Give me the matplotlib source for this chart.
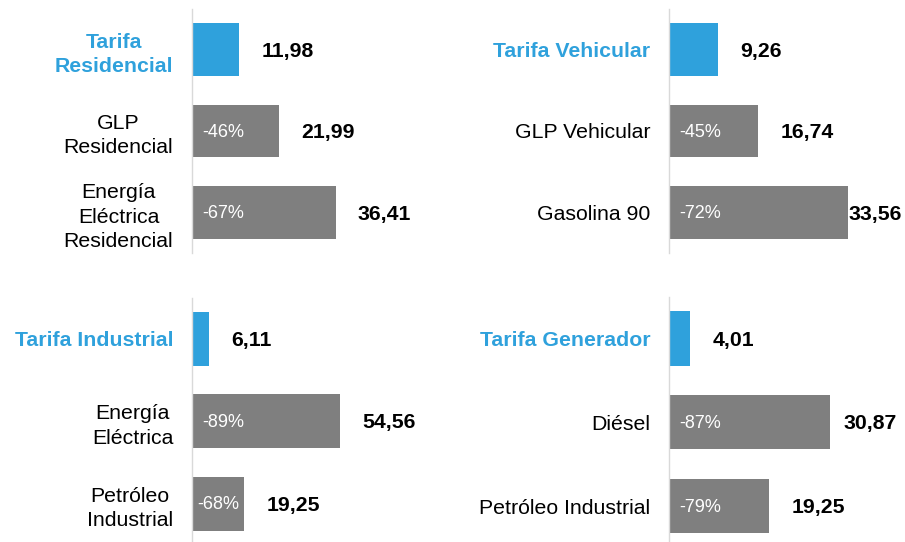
import matplotlib
matplotlib.use("Agg")
import matplotlib.pyplot as plt

plt.rcParams['font.family'] = ['Liberation Sans', 'DejaVu Sans']

# panel data
res_labels = ["Tarifa\nResidencial", "GLP\nResidencial", "Energía\nEléctrica\nResidencial"]
res_values = [11.98, 21.99, 36.41]
res_pct = [None, "-46%", "-67%"]

veh_labels = ["Tarifa Vehicular", "GLP Vehicular", "Gasolina 90"]
veh_values = [9.26, 16.74, 33.56]
veh_pct = [None, "-45%", "-72%"]

ind_labels = ["Tarifa Industrial", "Energía\nEléctrica", "Petróleo\nIndustrial"]
ind_values = [6.11, 54.56, 19.25]
ind_pct = [None, "-89%", "-68%"]

gen_labels = ["Tarifa Generador", "Diésel", "Petróleo Industrial"]
gen_values = [4.01, 30.87, 19.25]
gen_pct = [None, "-87%", "-79%"]

BLUE = "#2fa1dc"
GRAY = "#7f7f7f"
W, H = 905, 542

fig = plt.figure(figsize=(W / 100, H / 100), dpi=100)


def px_axes(left, right, top, bottom):
    return fig.add_axes([left / W, 1 - bottom / H, (right - left) / W, (bottom - top) / H])


def panel(ax, labels, values, pct, xmax):
    pos = list(range(len(values)))
    colors = [BLUE] + [GRAY] * (len(values) - 1)
    ax.barh(pos, values, height=0.65, color=colors)
    ax.set_xlim(0, xmax)
    ax.set_ylim(len(values) - 0.5, -0.5)
    ax.set_xticks([])
    ax.set_yticks(pos, labels, fontsize=15.3)
    ax.tick_params(axis='y', length=0, pad=13.5)
    for i, lbl in enumerate(ax.get_yticklabels()):
        lbl.set_multialignment('center')
        lbl.set_linespacing(1.35)
        if i == 0:
            lbl.set_color(BLUE)
            lbl.set_fontweight('bold')
    for s in ['top', 'right', 'bottom']:
        ax.spines[s].set_visible(False)
    ax.spines['left'].set_color('#d9d9d9')
    ax.spines['left'].set_linewidth(1.0)

    fig.canvas.draw()
    r = fig.canvas.get_renderer()
    ax_right = ax.get_window_extent().x1
    x0 = ax.transData.transform((0, 0))[0]
    for i, v in enumerate(values):
        t = ax.annotate(f"{v:.2f}".replace('.', ','), (v, i), xytext=(16, -1.2),
                        textcoords='offset points', ha='left', va='center',
                        fontsize=15.3, fontweight='bold', color='black',
                        annotation_clip=False)
        bb = t.get_window_extent(r)
        if bb.x1 > ax_right:
            # no room: push the label back inside the plot area
            xr = ax.transData.inverted().transform((ax_right, 0))[0]
            t.xy = (xr, i)
            t.set_position((0, -1.2))
            t.set_ha('right')
        if pct[i]:
            p = ax.annotate(pct[i], (0, i), xytext=(7.2, -0.8),
                            textcoords='offset points', ha='left', va='center',
                            fontsize=13, color='white')
            pw = p.get_window_extent(r).width
            bw = ax.transData.transform((v, 0))[0] - x0
            if bw < pw + 20:
                p.xy = (v / 2, i)
                p.set_position((0, -0.8))
                p.set_ha('center')


ax1 = px_axes(192, 430, 8.75, 253.25)
panel(ax1, res_labels, res_values, res_pct, 60.3)

ax2 = px_axes(669, 902, 8.75, 253.25)
panel(ax2, veh_labels, veh_values, veh_pct, 43.7)

ax3 = px_axes(192, 430, 297.5, 545)
panel(ax3, ind_labels, ind_values, ind_pct, 87.5)

ax4 = px_axes(669, 897, 296.5, 548)
panel(ax4, gen_labels, gen_values, gen_pct, 43.7)

fig.savefig("out.png", dpi=100)
